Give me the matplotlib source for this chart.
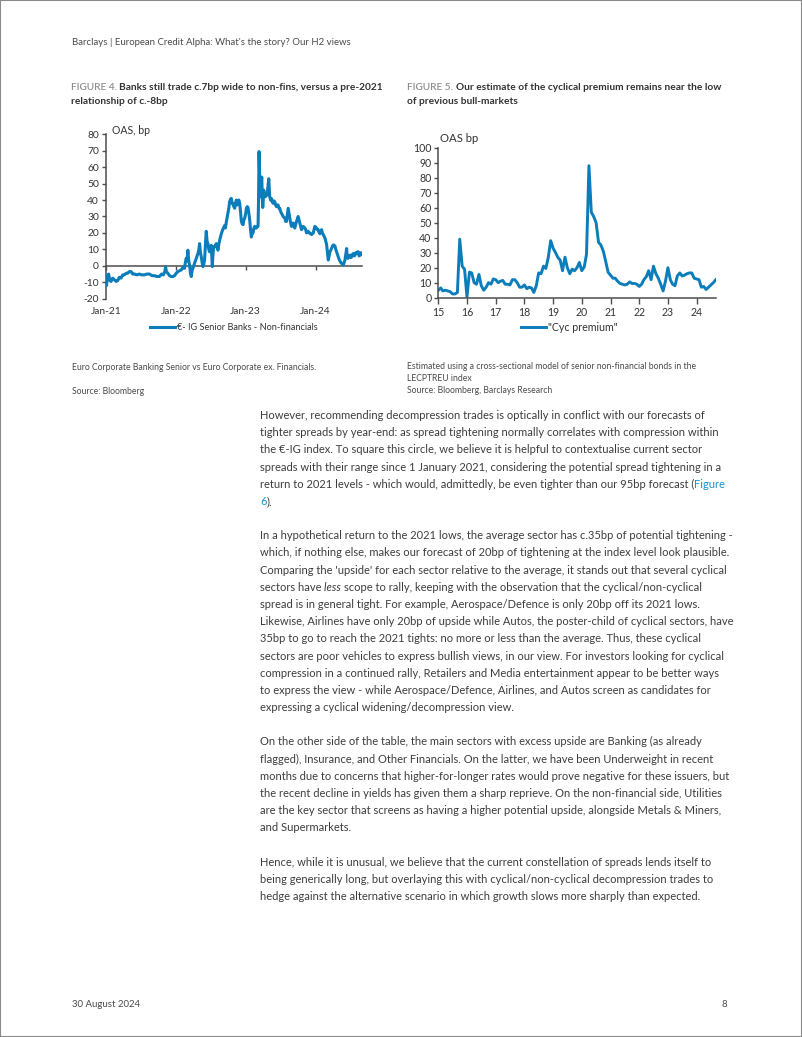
import matplotlib
matplotlib.use('Agg')
import matplotlib.pyplot as plt
import matplotlib.font_manager as fm
from matplotlib.patches import Rectangle
import pandas as pd

# ---- data: Figure 4 (banks minus non-financials, decimal year / bp) ----
banks_t = [2021.000, 2021.008, 2021.020, 2021.038, 2021.055, 2021.072, 2021.095, 2021.120, 2021.145, 2021.167,
           2021.190, 2021.215, 2021.240, 2021.263, 2021.290, 2021.311, 2021.335, 2021.359, 2021.383, 2021.407,
           2021.440, 2021.478, 2021.510, 2021.550, 2021.585, 2021.622, 2021.660, 2021.694, 2021.730, 2021.766,
           2021.795, 2021.823, 2021.845, 2021.852, 2021.865, 2021.885, 2021.910, 2021.933, 2021.958, 2021.981,
           2022.005, 2022.029, 2022.053, 2022.077, 2022.100, 2022.124, 2022.136, 2022.148, 2022.160, 2022.172,
           2022.184, 2022.196, 2022.208, 2022.220, 2022.232, 2022.244, 2022.268, 2022.292, 2022.316, 2022.330,
           2022.340, 2022.352, 2022.364, 2022.376, 2022.388, 2022.400, 2022.411, 2022.423, 2022.435, 2022.447,
           2022.459, 2022.471, 2022.483, 2022.495, 2022.507, 2022.515, 2022.522, 2022.530, 2022.541, 2022.560,
           2022.579, 2022.591, 2022.603, 2022.615, 2022.627, 2022.651, 2022.675, 2022.699, 2022.710, 2022.722,
           2022.746, 2022.758, 2022.770, 2022.782, 2022.794, 2022.806, 2022.818, 2022.830, 2022.842, 2022.854,
           2022.866, 2022.878, 2022.890, 2022.902, 2022.914, 2022.926, 2022.938, 2022.950, 2022.962, 2022.974,
           2022.986, 2023.000, 2023.010, 2023.022, 2023.033, 2023.045, 2023.057, 2023.069, 2023.081, 2023.093,
           2023.105, 2023.117, 2023.129, 2023.141, 2023.153, 2023.165, 2023.177, 2023.184, 2023.191, 2023.196,
           2023.201, 2023.208, 2023.215, 2023.222, 2023.230, 2023.237, 2023.244, 2023.251, 2023.258, 2023.270,
           2023.282, 2023.294, 2023.306, 2023.318, 2023.330, 2023.337, 2023.344, 2023.356, 2023.368, 2023.380,
           2023.392, 2023.404, 2023.416, 2023.428, 2023.440, 2023.452, 2023.464, 2023.476, 2023.488, 2023.500,
           2023.512, 2023.524, 2023.536, 2023.548, 2023.560, 2023.572, 2023.584, 2023.596, 2023.608, 2023.620,
           2023.632, 2023.644, 2023.656, 2023.668, 2023.679, 2023.691, 2023.703, 2023.715, 2023.727, 2023.739,
           2023.751, 2023.763, 2023.775, 2023.787, 2023.799, 2023.811, 2023.823, 2023.835, 2023.847, 2023.859,
           2023.871, 2023.883, 2023.895, 2023.907, 2023.919, 2023.931, 2023.943, 2023.955, 2023.967, 2023.979,
           2023.990, 2024.002, 2024.014, 2024.026, 2024.038, 2024.050, 2024.062, 2024.074, 2024.086, 2024.098,
           2024.110, 2024.122, 2024.134, 2024.146, 2024.158, 2024.170, 2024.182, 2024.194, 2024.206, 2024.218,
           2024.230, 2024.242, 2024.254, 2024.266, 2024.278, 2024.290, 2024.301, 2024.313, 2024.325, 2024.337,
           2024.349, 2024.361, 2024.373, 2024.385, 2024.397, 2024.409, 2024.421, 2024.433, 2024.445, 2024.452,
           2024.464, 2024.476, 2024.493, 2024.505, 2024.517, 2024.529, 2024.541, 2024.553, 2024.565, 2024.577,
           2024.589, 2024.600, 2024.612, 2024.624, 2024.636, 2024.648, 2024.660]
banks_v = [-6, -12, -6, -5, -9, -9.5, -7.5, -8.5, -9.5, -9,
           -7, -7.5, -5.5, -5.5, -4.5, -4.5, -3.5, -3.5, -5, -5,
           -5.5, -5, -5.5, -5.5, -5, -5, -6, -6, -6.5, -6.5,
           -5, -5.5, -3, -0.5, -3.5, -4.5, -6, -6.5, -6.5, -6,
           -4.5, -3.5, -3, -2.5, -1, -1.5, 2, 4.5, 3, 9.5,
           3, 0.5, -4, -6.5, -3, -1.5, 1.5, 4.5, 7.5, 10,
           13.5, 8, 5.5, 2, -0.5, 1, 3.5, 12, 21, 15,
           13.5, 10, 8.5, 11, 12.5, 5, -0.5, 6, 11.5, 12,
           13.5, 11, 9.5, 13, 15.5, 19.5, 22.5, 24.5, 23, 26.5,
           32, 35, 39, 40.5, 41, 38, 38, 36, 35, 38,
           40, 37, 39, 40, 38, 33, 27, 25.5, 25, 28,
           29, 32, 35, 36, 35.5, 32, 28, 22, 17.5, 20,
           20, 23, 24, 23, 23, 24, 24, 40, 69.5, 60,
           52, 44, 42, 50, 54, 42, 35.5, 40, 46, 43,
           42, 44, 43, 48, 53, 48, 42, 40, 41, 39,
           38, 39.5, 39, 37, 36, 37, 37, 35, 35, 33,
           32, 31, 30, 29.5, 29, 27, 27, 31, 35, 32,
           29, 26, 24, 25, 26, 24, 23, 25, 27, 28.5,
           30, 28, 26, 24, 22, 23, 24, 23.5, 23, 22,
           20, 20.5, 21, 20, 20, 19.5, 19, 19.5, 20, 22,
           24, 23.5, 23, 22, 22, 20.5, 19.5, 21, 22, 20,
           19, 18, 17, 15, 13, 8, 3.5, 6, 8.5, 9.5,
           10.7, 12, 12.7, 12.5, 12, 10, 8.5, 7, 5.5, 4,
           3, 2, 1.5, 1, 0.5, 2, 3.5, 7, 10.5, 6,
           4.5, 5.5, 6.5, 5, 5.5, 7, 7.5, 6, 6.5, 8,
           7.5, 8.5, 8.5, 6, 6.5, 8, 7]
banks_ticks = [2021, 2022, 2023, 2024]
banks_tick_labels = ['Jan-21', 'Jan-22', 'Jan-23', 'Jan-24']

# ---- data: Figure 5 (monthly cyclical premium from Jan-2015, bp) ----
cyc_v = [5, 6.5, 4.5, 5, 4.5, 4, 2.5, 2.5, 3.5, 39, 21, 19,
         0.5, 17, 16.5, 10, 9, 15.5, 8, 5, 7, 10, 9, 12.5,
         12, 10, 11, 11.5, 9, 9, 8.5, 12, 12, 10, 7, 7,
         8.5, 6, 7, 6.5, 3.5, 8, 16.5, 16, 21, 19.5, 27, 38,
         33, 30, 27, 25, 18, 27, 20, 16, 19, 18, 20, 23.5,
         18, 20.5, 29, 88, 57, 54, 50, 37, 35, 31, 24, 17,
         15, 13, 13, 11, 9.5, 9, 8.5, 9, 10.5, 9.5, 9.5, 9,
         7.5, 9, 12, 14, 18, 12, 21, 16, 13, 9, 4.5, 11,
         20, 12, 9, 8, 14.5, 16.5, 14.5, 15, 16, 16.5, 16.5, 13,
         12.5, 12, 7, 7.5, 5.5, 7, 8.5, 10, 12]
cyc_dates = pd.date_range('2015-01-01', periods=len(cyc_v), freq='MS')
cyc_ticks = pd.date_range('2015-01-01', '2024-01-01', freq='YS')

# ---- page text ----
header = "Barclays | European Credit Alpha: What's the story? Our H2 views"
footer_date = "30 August 2024"
page_no = "8"
fig4_title = ["Banks still trade c.7bp wide to non-fins, versus a pre-2021", "relationship of c.-8bp"]
fig5_title = ["Our estimate of the cyclical premium remains near the low", "of previous bull-markets"]
fig4_notes = ["Euro Corporate Banking Senior vs Euro Corporate ex. Financials.", "Source: Bloomberg"]
fig5_notes = ["Estimated using a cross-sectional model of senior non-financial bonds in the",
              "LECPTREU index", "Source: Bloomberg, Barclays Research"]

BLUE_LINK = '#1a93cf'
body = [
    [("However, recommending decompression trades is optically in conflict with our forecasts of", {})],
    [("tighter spreads by year-end: as spread tightening normally correlates with compression within", {})],
    [("the €-IG index. To square this circle, we believe it is helpful to contextualise current sector", {})],
    [("spreads with their range since 1 January 2021, considering the potential spread tightening in a", {})],
    [("return to 2021 levels - which would, admittedly, be even tighter than our 95bp forecast (", {}),
     ("Figure", {'color': BLUE_LINK})],
    [("6", {'color': BLUE_LINK}), (").", {})],
    None,
    [("In a hypothetical return to the 2021 lows, the average sector has c.35bp of potential tightening -", {})],
    [("which, if nothing else, makes our forecast of 20bp of tightening at the index level look plausible.", {})],
    [("Comparing the 'upside' for each sector relative to the average, it stands out that several cyclical", {})],
    [("sectors have ", {}), ("less ", {'fontstyle': 'italic'}),
     ("scope to rally, keeping with the observation that the cyclical/non-cyclical", {})],
    [("spread is in general tight. For example, Aerospace/Defence is only 20bp off its 2021 lows.", {})],
    [("Likewise, Airlines have only 20bp of upside while Autos, the poster-child of cyclical sectors, have", {})],
    [("35bp to go to reach the 2021 tights: no more or less than the average. Thus, these cyclical", {})],
    [("sectors are poor vehicles to express bullish views, in our view. For investors looking for cyclical", {})],
    [("compression in a continued rally, Retailers and Media entertainment appear to be better ways", {})],
    [("to express the view - while Aerospace/Defence, Airlines, and Autos screen as candidates for", {})],
    [("expressing a cyclical widening/decompression view.", {})],
    None,
    [("On the other side of the table, the main sectors with excess upside are Banking (as already", {})],
    [("flagged), Insurance, and Other Financials. On the latter, we have been Underweight in recent", {})],
    [("months due to concerns that higher-for-longer rates would prove negative for these issuers, but", {})],
    [("the recent decline in yields has given them a sharp reprieve. On the non-financial side, Utilities", {})],
    [("are the key sector that screens as having a higher potential upside, alongside Metals & Miners,", {})],
    [("and Supermarkets.", {})],
    None,
    [("Hence, while it is unusual, we believe that the current constellation of spreads lends itself to", {})],
    [("being generically long, but overlaying this with cyclical/non-cyclical decompression trades to", {})],
    [("hedge against the alternative scenario in which growth slows more sharply than expected.", {})],
]

W, H = 802, 1037
LINE_BLUE = '#0b7dba'
TXT = '#3d3d3d'
names = {f.name for f in fm.fontManager.ttflist}
NARROW = 'Liberation Sans Narrow' if 'Liberation Sans Narrow' in names else 'Lato'
plt.rcParams['font.family'] = ['Lato', 'DejaVu Sans']
plt.rcParams['axes.unicode_minus'] = False

fig = plt.figure(figsize=(W / 100, H / 100), dpi=100)
fig.patch.set_facecolor('white')
r = fig.canvas.get_renderer()


def ftext(x, y, s, **kw):
    return fig.text(x / W, 1 - y / H, s, **kw)


def text_w(s, size, **kw):
    t = fig.text(0, 0, s, fontsize=size, **kw)
    w = t.get_window_extent(renderer=r).width
    t.remove()
    return w


def fit(s, width, **kw):
    return 10 * width / text_w(s, 10, **kw)


def runs(x, y, parts, size, draw=True, **base):
    x0 = x
    for s, ov in parts:
        kw = dict(base)
        kw.update(ov)
        if draw:
            ftext(x, y, s, fontsize=size, va='baseline', **kw)
        mkw = {k: v for k, v in kw.items() if k in ('fontweight', 'fontstyle', 'family')}
        core = s.rstrip(' ')
        sp = (text_w('x x', size, **mkw) - text_w('xx', size, **mkw)) * (len(s) - len(core))
        x += text_w(core, size, **mkw) + sp
    return x - x0


# ---- header / footer / border ----
hs = fit(header, 281, family=NARROW)
ftext(72, 45, header, fontsize=hs, family=NARROW, color='#4a4a4a', va='baseline')
ftext(72, 1007, footer_date, fontsize=hs, family=NARROW, color='#4a4a4a', va='baseline')
ftext(727, 1007, page_no, fontsize=hs, family=NARROW, color='#4a4a4a', va='baseline', ha='right')
fig.patches.append(Rectangle((0, 0), 1, 1, transform=fig.transFigure, fill=False,
                             ec='#8a8a8a', lw=1.5))

# ---- figure titles ----
GREY_LAB = {'color': '#8e8e8e', 'fontweight': 'semibold'}
t4 = [('FIGURE 4. ', GREY_LAB), (fig4_title[0], {})]
t5 = [('FIGURE 5. ', GREY_LAB), (fig5_title[0], {})]
ts = 10 * 313 / runs(0, 0, t4, 10, draw=False, fontweight='bold')
for x0, parts, title in ((71, t4, fig4_title), (407, t5, fig5_title)):
    runs(x0, 90.5, parts, ts, fontweight='bold', color='#333333')
    ftext(x0, 104, title[1], fontsize=ts, fontweight='bold', color='#333333', va='baseline')

# ---- notes ----
ns = fit(fig4_notes[0], 243, family=NARROW)
ftext(72, 369.5, fig4_notes[0], fontsize=ns, family=NARROW, color='#4a4a4a', va='baseline')
ftext(72, 393.5, fig4_notes[1], fontsize=ns, family=NARROW, color='#4a4a4a', va='baseline')
for i, s in enumerate(fig5_notes):
    ftext(407, 369 + 12 * i, s, fontsize=ns, family=NARROW, color='#4a4a4a', va='baseline')

# ---- body ----
bs = fit(body[0][0][0], 443)
for k, line in enumerate(body):
    if line is None:
        continue
    runs(260, 419 + 17.18 * k, line, bs, color=TXT)

# ---- Figure 4 chart ----
ax1 = fig.add_axes([106 / W, 1 - 298.7 / H, (362 - 106) / W, (298.7 - 134.3) / H])
l1, = ax1.plot(banks_t, banks_v, color=LINE_BLUE, lw=2.2, zorder=3,
               label='€- IG Senior Banks - Non-financials')
ax1.set_xlim(2021.0, 2024.665)
ax1.set_ylim(-20, 80)
ax1.set_yticks(range(-20, 81, 10))
ax1.set_xticks(banks_ticks)
ax1.set_xticklabels(banks_tick_labels)
for s in ('top', 'right'):
    ax1.spines[s].set_visible(False)
ax1.spines['bottom'].set_position(('data', 0))
for s in ('bottom', 'left'):
    ax1.spines[s].set_color('#4d4d4d')
    ax1.spines[s].set_linewidth(1.1)
ax1.tick_params(axis='x', length=3, width=1, color='#4d4d4d', pad=27, labelsize=7.4, labelcolor='#333')
ax1.tick_params(axis='y', length=3, width=1, color='#4d4d4d', pad=2, labelsize=7.4, labelcolor='#333')
ftext(112, 133.5, 'OAS, bp', fontsize=7.6, color='#333', va='baseline')
lf1 = fit(l1.get_label(), 141)
ax1.legend(handles=[l1], loc='center left', bbox_to_anchor=(150 / W, 1 - 327.5 / H),
           bbox_transform=fig.transFigure, frameon=False, borderpad=0, borderaxespad=0,
           handlelength=25 / (lf1 * 100 / 72), handletextpad=2 / (lf1 * 100 / 72),
           fontsize=lf1, labelcolor='#333')

# ---- Figure 5 chart ----
ax2 = fig.add_axes([438.3 / W, 1 - 297.7 / H, (716 - 438.3) / W, 150 / H])
l2, = ax2.plot(cyc_dates, cyc_v, color=LINE_BLUE, lw=2.1, label='"Cyc premium"')
ax2.set_xlim(pd.Timestamp('2015-01-01'), pd.Timestamp('2024-09-04'))
ax2.set_ylim(0, 100)
ax2.set_yticks(range(0, 101, 10))
ax2.set_xticks(cyc_ticks)
ax2.set_xticklabels([d.strftime('%y') for d in cyc_ticks])
for s in ('top', 'right'):
    ax2.spines[s].set_visible(False)
for s in ('bottom', 'left'):
    ax2.spines[s].set_color('#4d4d4d')
    ax2.spines[s].set_linewidth(1.1)
ax2.tick_params(axis='x', length=4, width=1, color='#4d4d4d', pad=3, labelsize=7.6, labelcolor='#333')
ax2.tick_params(axis='y', length=3, width=1, color='#4d4d4d', pad=2, labelsize=7.6, labelcolor='#333')
ftext(440.5, 141.5, 'OAS bp', fontsize=8.2, color='#333', va='baseline')
lf2 = fit(l2.get_label(), 70)
ax2.legend(handles=[l2], loc='center left', bbox_to_anchor=(521 / W, 1 - 327.7 / H),
           bbox_transform=fig.transFigure, frameon=False, borderpad=0, borderaxespad=0,
           handlelength=25 / (lf2 * 100 / 72), handletextpad=2 / (lf2 * 100 / 72),
           fontsize=lf2, labelcolor='#333')

fig.savefig('out.png', dpi=100, facecolor='white')
